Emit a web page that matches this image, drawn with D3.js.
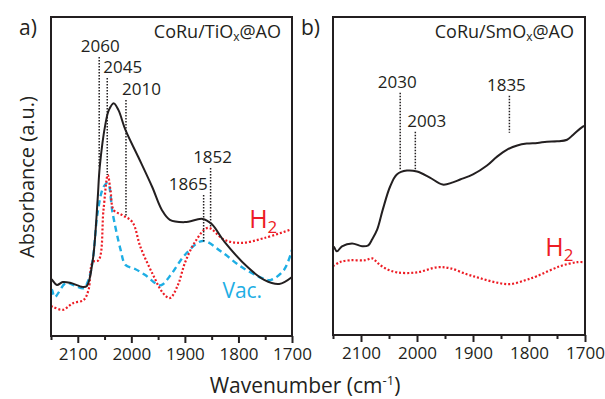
<!DOCTYPE html>
<html>
<head>
<meta charset="utf-8">
<script src="https://cdn.jsdelivr.net/npm/d3@7"></script>
<style>
  body { margin: 0; background: #fff; }
  svg { font-family: 'Open Sans', sans-serif; }
</style>
</head>
<body>
<svg id="chart" width="605" height="399"></svg>
<script>
// wavenumber ticks shared by both panels
const wnDomain = [2150, 1700];
const tickLabels = [2100, 2000, 1900, 1800, 1700];

// panel a) CoRu/TiOx@AO  [wavenumber, absorbance a.u.]
const tiCO = [[2150, 17.8], [2148, 17.6], [2139, 16.0], [2128, 16.9], [2113, 16.6], [2091, 15.4], [2083, 15.7],
  [2072, 23.8], [2063, 42.6], [2059, 53.0], [2048, 66.8], [2042, 70.8], [2033, 73.0], [2024, 70.8], [2011, 64.6],
  [1987, 56.1], [1961, 46.7], [1943, 39.5], [1928, 36.4], [1900, 35.7], [1867, 36.7], [1850, 35.1], [1826, 29.5],
  [1783, 21.6], [1752, 17.6], [1724, 16.3], [1700, 18.5]];
const tiH2 = [[2150, 9.4], [2146, 9.1], [2128, 8.2], [2109, 10.3], [2089, 11.3], [2080, 14.4], [2072, 23.2],
  [2061, 23.8], [2052, 39.5], [2044, 50.5], [2039, 45.8], [2033, 39.5], [2017, 37.9], [1998, 35.7], [1983, 27.9],
  [1961, 19.7], [1941, 13.5], [1928, 11.9], [1913, 16.0], [1900, 22.9], [1881, 29.5], [1857, 33.9], [1826, 30.1],
  [1794, 29.2], [1752, 30.7], [1700, 33.5]];
const tiVac = [[2150, 14.6], [2148, 14.4], [2143, 12.2], [2122, 16.6], [2104, 15.7], [2089, 15.0], [2080, 17.6],
  [2072, 23.8], [2063, 38.6], [2052, 46.7], [2044, 48.0], [2035, 38.6], [2020, 27.0], [2011, 22.3], [1993, 21.0],
  [1974, 19.1], [1950, 16.0], [1943, 16.0], [1924, 19.7], [1900, 25.4], [1867, 29.8], [1831, 26.3], [1794, 21.6],
  [1752, 17.9], [1739, 17.6], [1715, 20.7], [1700, 27.0]];
const tiMarkWn = [2060, 2045, 2010, 1865, 1852];
const tiMarkTop = [87.5, 80.9, 74.0, 44.2, 52.7];
const tiMarkBottom = [53.0, 50.5, 37.3, 29.5, 33.9];

// panel b) CoRu/SmOx@AO
const smCO = [[2150, 27.9], [2148, 27.6], [2143, 26.3], [2134, 27.9], [2116, 28.8], [2098, 27.9], [2087, 28.2],
  [2080, 30.1], [2071, 33.2], [2061, 39.5], [2048, 46.7], [2036, 50.5], [2018, 51.7], [2000, 51.4], [1977, 49.5],
  [1954, 47.3], [1936, 48.0], [1923, 48.9], [1900, 50.5], [1875, 53.3], [1857, 56.1], [1839, 58.3], [1821, 59.6],
  [1804, 60.2], [1785, 60.4], [1768, 60.8], [1750, 60.9], [1732, 61.4], [1721, 63.0], [1704, 65.5], [1700, 65.8]];
const smH2 = [[2150, 21.6], [2138, 22.9], [2120, 23.5], [2093, 23.5], [2080, 24.1], [2070, 22.6], [2057, 21.0],
  [2036, 19.7], [2000, 19.7], [1964, 21.3], [1941, 21.0], [1911, 19.1], [1888, 17.9], [1861, 16.6], [1834, 16.0],
  [1807, 17.2], [1786, 18.5], [1745, 21.6], [1714, 22.9], [1700, 22.9]];
const smMarkWn = [2030, 2003, 1835];
const smMarkTop = [76.2, 63.9, 75.2];
const smMarkBottom = [52.0, 52.0, 63.6];

const black = '#231f20';
const red = '#ed1c24';
const blue = '#1eaee4';

const svg = d3.select('#chart');

const drawPanel = (opts) => {
  const x = d3.scaleLinear().domain(wnDomain).range([opts.left, opts.right]);
  const y = d3.scaleLinear().domain([0, 100]).range([opts.bottom, opts.top]);
  const g = svg.append('g');

  const line = d3.line()
    .x(d => x(d[0]))
    .y(d => y(d[1]))
    .curve(d3.curveCatmullRom.alpha(0.5));

  opts.series.forEach((s) => {
    g.append('path')
      .datum(s.data)
      .attr('d', line)
      .attr('fill', 'none')
      .attr('stroke', s.colour)
      .attr('stroke-width', s.width)
      .attr('stroke-dasharray', s.dash)
      .attr('stroke-linejoin', 'round');
  });

  // peak markers
  opts.marks.wn.forEach((wn, i) => {
    g.append('line')
      .attr('x1', x(wn)).attr('x2', x(wn))
      .attr('y1', y(opts.marks.top[i])).attr('y2', y(opts.marks.bottom[i]))
      .attr('stroke', black)
      .attr('stroke-width', 1.5)
      .attr('stroke-dasharray', '1.5,1.5');
    g.append('text')
      .attr('x', x(wn))
      .attr('dx', opts.marks.dx[i])
      .attr('y', y(opts.marks.top[i]) - 5)
      .attr('text-anchor', opts.marks.anchor[i])
      .attr('font-size', 17)
      .attr('fill', black)
      .text(wn);
  });

  // frame
  g.append('rect')
    .attr('x', opts.left).attr('y', opts.top)
    .attr('width', opts.right - opts.left).attr('height', opts.bottom - opts.top)
    .attr('fill', 'none')
    .attr('stroke', black)
    .attr('stroke-width', 2);

  const xAxis = d3.axisBottom(x)
    .tickValues(d3.range(2150, 1699, -50))
    .tickSize(7)
    .tickFormat(d => (tickLabels.includes(d) ? d : ''));

  const ax = g.append('g')
    .attr('transform', `translate(0,${opts.bottom})`)
    .call(xAxis);
  ax.select('.domain').remove();
  ax.selectAll('.tick line')
    .attr('stroke', black)
    .attr('stroke-width', 2)
    .attr('y2', d => (tickLabels.includes(d) ? 7 : 4));
  ax.selectAll('.tick text')
    .attr('y', 12)
    .attr('font-size', 17)
    .attr('font-family', "'Open Sans', sans-serif")
    .attr('fill', black);

  // title
  const title = g.append('text')
    .attr('x', opts.right - 11)
    .attr('y', opts.top + 21)
    .attr('text-anchor', 'end')
    .attr('font-size', 18)
    .attr('fill', black);
  title.append('tspan').text(opts.title[0]);
  title.append('tspan').attr('font-size', 12).attr('dy', 3).text('x');
  title.append('tspan').attr('dy', -3).text(opts.title[1]);

  g.append('text')
    .attr('x', opts.left - 32)
    .attr('y', opts.top + 18)
    .attr('font-size', 21)
    .attr('fill', black)
    .text(opts.tag);

  return { x, y, g };
};

const a = drawPanel({
  left: 51, right: 292, top: 17, bottom: 336,
  tag: 'a)',
  title: ['CoRu/TiO', '@AO'],
  series: [
    { data: tiVac, colour: blue, width: 2.4, dash: '6,4' },
    { data: tiH2, colour: red, width: 2.2, dash: '2,2' },
    { data: tiCO, colour: black, width: 2, dash: null },
  ],
  marks: {
    wn: tiMarkWn, top: tiMarkTop, bottom: tiMarkBottom,
    anchor: ['middle', 'start', 'start', 'end', 'middle'],
    dx: [1, -4, -4, 4, 2],
  },
});

const b = drawPanel({
  left: 333, right: 585, top: 17, bottom: 335,
  tag: 'b)',
  title: ['CoRu/SmO', '@AO'],
  series: [
    { data: smH2, colour: red, width: 2.2, dash: '2,2' },
    { data: smCO, colour: black, width: 2, dash: null },
  ],
  marks: {
    wn: smMarkWn, top: smMarkTop, bottom: smMarkBottom,
    anchor: ['middle', 'start', 'middle'],
    dx: [-3, -8, -3],
  },
});

// gas labels
const h2Label = (panel, wn, val) => {
  const t = panel.g.append('text')
    .attr('x', panel.x(wn))
    .attr('y', panel.y(val))
    .attr('font-size', 25)
    .attr('fill', red);
  t.append('tspan').text('H');
  t.append('tspan').attr('font-size', 17).attr('dy', 5).text('2');
};
h2Label(a, 1780, 34);
h2Label(b, 1771, 25);

a.g.append('text')
  .attr('x', a.x(1830))
  .attr('y', a.y(12))
  .attr('font-size', 21)
  .attr('fill', blue)
  .text('Vac.');

// axis titles
svg.append('text')
  .attr('transform', 'translate(34,177) rotate(-90)')
  .attr('text-anchor', 'middle')
  .attr('font-size', 20)
  .attr('fill', black)
  .text('Absorbance (a.u.)');

const xt = svg.append('text')
  .attr('x', 305)
  .attr('y', 393)
  .attr('text-anchor', 'middle')
  .attr('font-size', 21)
  .attr('fill', black);
xt.append('tspan').text('Wavenumber (cm');
xt.append('tspan').attr('font-size', 13).attr('dy', -8).text('-1');
xt.append('tspan').attr('dy', 8).text(')');
</script>
</body>
</html>
